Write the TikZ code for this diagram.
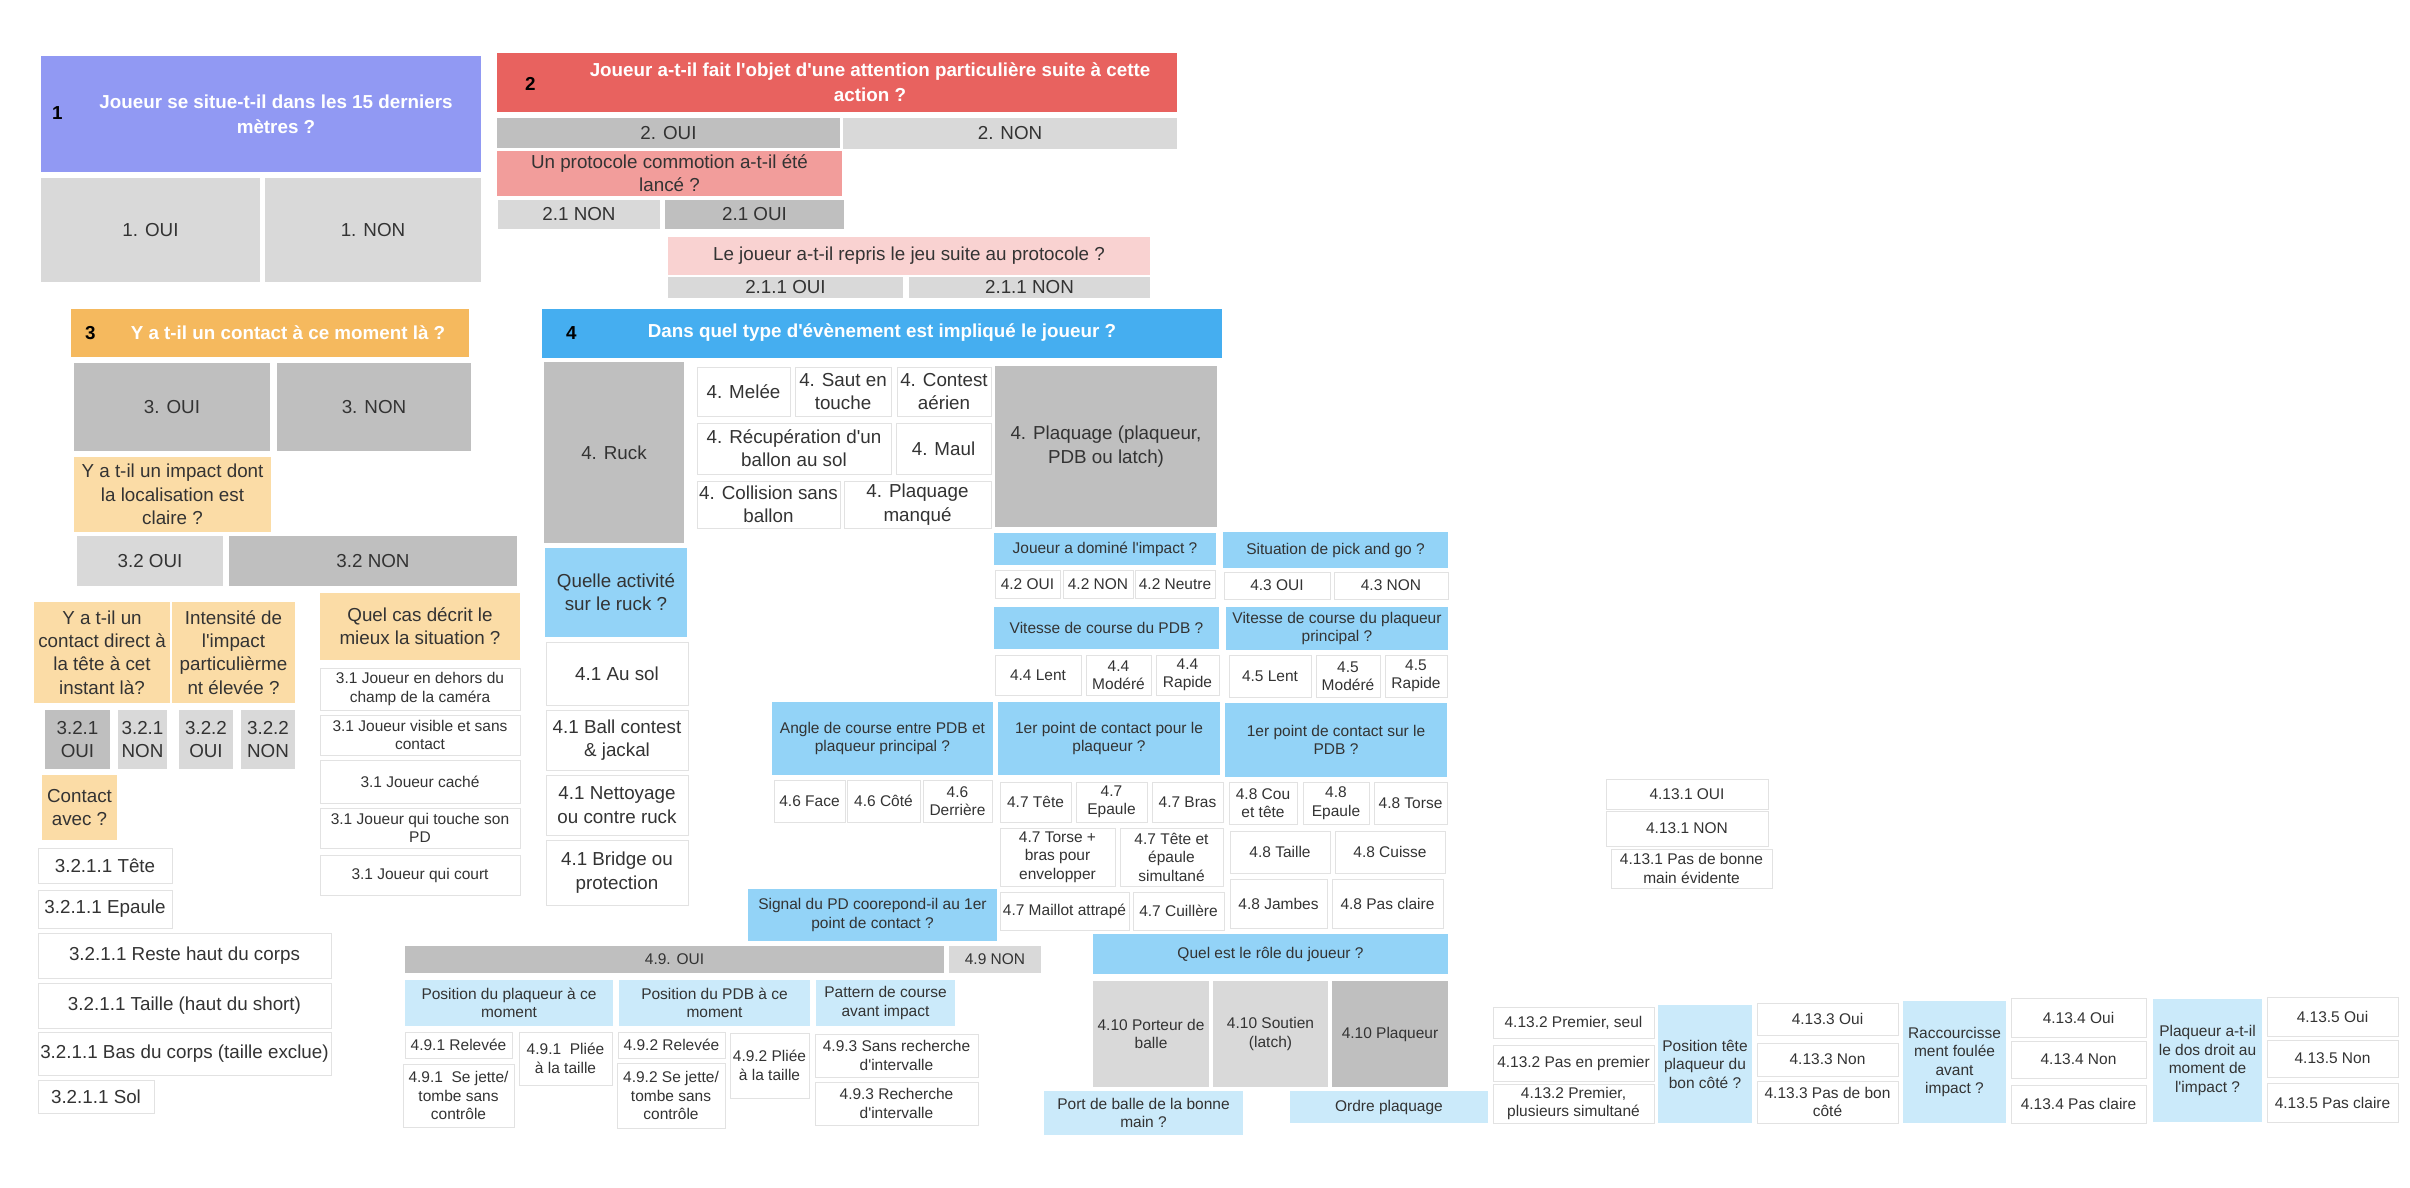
\documentclass[tikz,border=0pt]{standalone}
\usepackage{fontspec}
\setmainfont{Liberation Sans}[Ligatures=TeXOff]
\definecolor{txt}{HTML}{333333}
\definecolor{cA}{HTML}{9199F3}
\definecolor{cB}{HTML}{E8625F}
\definecolor{cBm}{HTML}{F29D9B}
\definecolor{cBl}{HTML}{F9D2D1}
\definecolor{cC}{HTML}{F5B95E}
\definecolor{cCl}{HTML}{FBDCA6}
\definecolor{cD}{HTML}{45AEF0}
\definecolor{cDm}{HTML}{93D3F7}
\definecolor{cDl}{HTML}{CBEAFA}
\definecolor{gd}{HTML}{BFBFBF}
\definecolor{gl}{HTML}{D9D9D9}
\definecolor{wb}{HTML}{E2E2E2}
\newcommand\fbig{\fontsize{18.8}{23.3}\selectfont}
\newcommand\fsm{\fontsize{15.5}{18.5}\selectfont}
\newcommand\fhd{\fontsize{18.8}{25}\selectfont\bfseries}
\newcommand\bx[7]{\node[#1, minimum width={(#4)-(#2)}, minimum height={(#5)-(#3)}] (#6) at ({((#2)+(#4))/2},{((#3)+(#5))/2}) {#7};}
\tikzset{
  base/.style={inner sep=0pt, outer sep=0pt, align=center, text=txt, font=\fbig},
  small/.style={font=\fsm},
  hA/.style={base, fill=cA},
  hB/.style={base, fill=cB},
  rm/.style={base, fill=cBm},
  rl/.style={base, fill=cBl},
  hC/.style={base, fill=cC},
  ol/.style={base, fill=cCl},
  hD/.style={base, fill=cD},
  bm/.style={base, fill=cDm},
  bl/.style={base, fill=cDl},
  gdark/.style={base, fill=gd},
  glight/.style={base, fill=gl},
  wbox/.style={base, fill=white, draw=wb, line width=1pt},
  hdtext/.style={inner sep=0pt, align=center, text=white, font=\fhd},
  hdnum/.style={inner sep=0pt, anchor=west, text=black, font=\fhd}
}
\begin{document}
\begin{tikzpicture}[x=1pt,y=-1pt]
\fill[white] (0,0) rectangle (2410,1188);
\useasboundingbox (0,0) rectangle (2410,1188);
% ---------- 1 ----------
\bx{hA}{41}{56}{481}{172}{q1}{}
\node[hdnum] (q1n) at (52,113) {1};
\node[hdtext] (q1t) at (276,114) {Joueur se situe-t-il dans les 15 derniers\\mètres ?};
\bx{glight}{41}{178}{260}{282}{a1o}{1. OUI}
\bx{glight}{265}{178}{481}{282}{a1n}{1. NON}
% ---------- 2 ----------
\bx{hB}{497}{53}{1177}{112}{q2}{}
\node[hdnum] (q2n) at (525,84) {2};
\node[hdtext] (q2t) at (870,82) {Joueur a-t-il fait l'objet d'une attention particulière suite à cette\\action ?};
\bx{gdark}{497}{118}{840}{148}{a2o}{2. OUI}
\bx{glight}{843}{118}{1177}{149}{a2n}{2. NON}
\bx{rm}{497}{151}{842}{196}{q21}{Un protocole commotion a-t-il été\\lancé ?}
\bx{glight}{498}{200}{660}{229}{a21n}{2.1 NON}
\bx{gdark}{665}{200}{844}{229}{a21o}{2.1 OUI}
\bx{rl}{668}{237}{1150}{275}{q211}{Le joueur a-t-il repris le jeu suite au protocole ?}
\bx{glight}{668}{277}{903}{298}{a211o}{2.1.1 OUI}
\bx{glight}{909}{277}{1150}{298}{a211n}{2.1.1 NON}
% ---------- 3 ----------
\bx{hC}{71}{309}{469}{357}{q3}{}
\node[hdnum] (q3n) at (85,333) {3};
\node[hdtext] (q3t) at (288,333) {Y a t-il un contact à ce moment là ?};
\bx{gdark}{74}{363}{270}{451}{a3o}{3. OUI}
\bx{gdark}{277}{363}{471}{451}{a3n}{3. NON}
\bx{ol}{74}{457}{271}{532}{q32}{Y a t-il un impact dont\\la localisation est\\claire ?}
\bx{glight}{77}{536}{223}{586}{a32o}{3.2 OUI}
\bx{gdark}{229}{536}{517}{586}{a32n}{3.2 NON}
\bx{ol}{34}{602}{170}{703}{q321}{Y a t-il un\\contact direct à\\la tête à cet\\instant là?}
\bx{ol}{172}{602}{295}{703}{q322}{Intensité de\\l'impact\\particulièrme\\nt élevée ?}
\bx{gdark}{45}{710}{110}{769}{a321o}{3.2.1\\OUI}
\bx{glight}{118}{710}{167}{769}{a321n}{3.2.1\\NON}
\bx{glight}{179}{710}{233}{769}{a322o}{3.2.2\\OUI}
\bx{glight}{241}{710}{295}{769}{a322n}{3.2.2\\NON}
\bx{ol}{42}{775}{117}{840}{q3211}{Contact\\avec ?}
\bx{wbox}{38}{848}{172}{883}{c1}{3.2.1.1 Tête}
\bx{wbox}{38}{890}{172}{928}{c2}{3.2.1.1 Epaule}
\bx{wbox}{38}{933}{331}{978}{c3}{3.2.1.1 Reste haut du corps}
\bx{wbox}{38}{983}{331}{1028}{c4}{3.2.1.1 Taille (haut du short)}
\bx{wbox}{38}{1032}{331}{1075}{c5}{3.2.1.1 Bas du corps (taille exclue)}
\bx{wbox}{38}{1080}{154}{1113}{c6}{3.2.1.1 Sol}
\bx{ol}{320}{593}{520}{660}{q31}{Quel cas décrit le\\mieux la situation ?}
\bx{wbox,small}{320}{668}{520}{710}{s1}{3.1 Joueur en dehors du\\champ de la caméra}
\bx{wbox,small}{320}{715}{520}{755}{s2}{3.1 Joueur visible et sans\\contact}
\bx{wbox,small}{320}{760}{520}{803}{s3}{3.1 Joueur caché}
\bx{wbox,small}{320}{808}{520}{848}{s4}{3.1 Joueur qui touche son\\PD}
\bx{wbox,small}{320}{855}{520}{895}{s5}{3.1 Joueur qui court}
% ---------- 4 ----------
\bx{hD}{542}{309}{1222}{358}{q4}{}
\node[hdnum] (q4n) at (566,333) {4};
\node[hdtext] (q4t) at (882,333) {Dans quel type d'évènement est impliqué le joueur ?};
\bx{gdark}{544}{362}{684}{543}{e1}{4. Ruck}
\bx{wbox}{697}{367}{790}{416}{e2}{4. Melée}
\bx{wbox}{795}{367}{891}{416}{e3}{4. Saut en\\touche}
\bx{wbox}{897}{367}{991}{416}{e4}{4. Contest\\aérien}
\bx{wbox}{697}{423}{891}{474}{e5}{4. Récupération d'un\\ballon au sol}
\bx{wbox}{896}{423}{991}{474}{e6}{4. Maul}
\bx{wbox}{697}{481}{840}{528}{e7}{4. Collision sans\\ballon}
\bx{wbox}{844}{481}{991}{528}{e8}{4. Plaquage\\manqué}
\bx{gdark}{995}{366}{1217}{527}{e9}{4. Plaquage (plaqueur,\\PDB ou latch)}
\bx{bm}{545}{548}{687}{637}{q41}{Quelle activité\\sur le ruck ?}
\bx{wbox}{546}{642}{688}{705}{r1}{4.1 Au sol}
\bx{wbox}{546}{710}{688}{770}{r2}{4.1 Ball contest\\\& jackal}
\bx{wbox}{546}{775}{688}{835}{r3}{4.1 Nettoyage\\ou contre ruck}
\bx{wbox}{546}{840}{688}{905}{r4}{4.1 Bridge ou\\protection}
% 4.2 / 4.3
\bx{bm,small}{994}{533}{1216}{565}{q42}{Joueur a dominé l'impact ?}
\bx{wbox,small}{995}{570}{1060}{598}{a42o}{4.2 OUI}
\bx{wbox,small}{1063}{570}{1133}{598}{a42n}{4.2 NON}
\bx{wbox,small}{1135}{570}{1215}{598}{a42x}{4.2 Neutre}
\bx{bm,small}{1223}{532}{1448}{568}{q43}{Situation de pick and go ?}
\bx{wbox,small}{1224}{572}{1330}{599}{a43o}{4.3 OUI}
\bx{wbox,small}{1334}{572}{1448}{599}{a43n}{4.3 NON}
% 4.4 / 4.5
\bx{bm,small}{994}{607}{1219}{649}{q44}{Vitesse de course du PDB ?}
\bx{wbox,small}{995}{655}{1081}{695}{a44l}{4.4 Lent}
\bx{wbox,small}{1086}{655}{1151}{695}{a44m}{4.4\\Modéré}
\bx{wbox,small}{1156}{655}{1219}{695}{a44r}{4.4\\Rapide}
\bx{bm,small}{1226}{607}{1448}{650}{q45}{Vitesse de course du plaqueur\\principal ?}
\bx{wbox,small}{1229}{655}{1311}{697}{a45l}{4.5 Lent}
\bx{wbox,small}{1316}{655}{1380}{697}{a45m}{4.5\\Modéré}
\bx{wbox,small}{1385}{655}{1447}{697}{a45r}{4.5\\Rapide}
% 4.6 / 4.7 / 4.8
\bx{bm,small}{772}{702}{993}{775}{q46}{Angle de course entre PDB et\\plaqueur principal ?}
\bx{bm,small}{998}{702}{1220}{775}{q47}{1er point de contact pour le\\plaqueur ?}
\bx{bm,small}{1225}{703}{1447}{777}{q48}{1er point de contact sur le\\PDB ?}
\bx{wbox,small}{774}{780}{845}{822}{a46f}{4.6 Face}
\bx{wbox,small}{847}{780}{920}{822}{a46c}{4.6 Côté}
\bx{wbox,small}{923}{780}{992}{822}{a46d}{4.6\\Derrière}
\bx{wbox,small}{1000}{782}{1071}{822}{a47t}{4.7 Tête}
\bx{wbox,small}{1076}{782}{1147}{822}{a47e}{4.7\\Epaule}
\bx{wbox,small}{1152}{782}{1223}{822}{a47b}{4.7 Bras}
\bx{wbox,small}{1000}{828}{1115}{886}{a47x}{4.7 Torse +\\bras pour\\envelopper}
\bx{wbox,small}{1120}{828}{1223}{886}{a47y}{4.7 Tête et\\épaule\\simultané}
\bx{wbox,small}{1000}{892}{1129}{930}{a47m}{4.7 Maillot attrapé}
\bx{wbox,small}{1133}{892}{1224}{930}{a47c}{4.7 Cuillère}
\bx{wbox,small}{1229}{782}{1297}{824}{a48c}{4.8 Cou\\et tête}
\bx{wbox,small}{1303}{782}{1369}{824}{a48e}{4.8\\Epaule}
\bx{wbox,small}{1374}{782}{1447}{824}{a48t}{4.8 Torse}
\bx{wbox,small}{1230}{831}{1330}{873}{a48w}{4.8 Taille}
\bx{wbox,small}{1335}{831}{1445}{873}{a48q}{4.8 Cuisse}
\bx{wbox,small}{1230}{879}{1327}{928}{a48j}{4.8 Jambes}
\bx{wbox,small}{1332}{879}{1443}{928}{a48p}{4.8 Pas claire}
% 4.9
\bx{bm,small}{748}{889}{997}{941}{q49}{Signal du PD coorepond-il au 1er\\point de contact ?}
\bx{gdark,small}{405}{946}{944}{973}{a49o}{4.9. OUI}
\bx{glight,small}{949}{946}{1041}{973}{a49n}{4.9 NON}
\bx{bl,small}{405}{980}{613}{1026}{q491}{Position du plaqueur à ce\\moment}
\bx{bl,small}{619}{980}{810}{1026}{q492}{Position du PDB à ce\\moment}
\bx{bl,small}{816}{980}{955}{1026}{q493}{Pattern de course\\avant impact}
\bx{wbox,small}{405}{1032}{512}{1058}{p1}{4.9.1 Relevée}
\bx{wbox,small}{519}{1032}{612}{1085}{p2}{4.9.1~~Pliée\\à la taille}
\bx{wbox,small}{403}{1064}{514}{1127}{p3}{4.9.1~~Se jette/\\tombe sans\\contrôle}
\bx{wbox,small}{618}{1032}{725}{1058}{p4}{4.9.2 Relevée}
\bx{wbox,small}{617}{1063}{725}{1128}{p5}{4.9.2 Se jette/\\tombe sans\\contrôle}
\bx{wbox,small}{730}{1033}{809}{1098}{p6}{4.9.2 Pliée\\à la taille}
\bx{wbox,small}{815}{1034}{978}{1077}{p7}{4.9.3 Sans recherche\\d'intervalle}
\bx{wbox,small}{815}{1082}{978}{1125}{p8}{4.9.3 Recherche\\d'intervalle}
% 4.10
\bx{bm,small}{1093}{934}{1448}{974}{q410}{Quel est le rôle du joueur ?}
\bx{glight,small}{1093}{981}{1209}{1087}{a410p}{4.10 Porteur de\\balle}
\bx{glight,small}{1213}{981}{1328}{1087}{a410s}{4.10 Soutien\\(latch)}
\bx{gdark,small}{1332}{981}{1448}{1087}{a410q}{4.10 Plaqueur}
\bx{bl,small}{1044}{1091}{1243}{1135}{q4131}{Port de balle de la bonne\\main ?}
\bx{bl,small}{1290}{1091}{1488}{1123}{q4132}{Ordre plaquage}
% 4.13
\bx{wbox,small}{1606}{779}{1768}{809}{b1o}{4.13.1 OUI}
\bx{wbox,small}{1606}{811}{1768}{846}{b1n}{4.13.1 NON}
\bx{wbox,small}{1611}{849}{1772}{888}{b1x}{4.13.1 Pas de bonne\\main évidente}
\bx{wbox,small}{1493}{1007}{1654}{1038}{b2a}{4.13.2 Premier, seul}
\bx{wbox,small}{1493}{1045}{1654}{1081}{b2b}{4.13.2 Pas en premier}
\bx{wbox,small}{1493}{1084}{1654}{1123}{b2c}{4.13.2 Premier,\\plusieurs simultané}
\bx{bl,small}{1658}{1005}{1752}{1123}{q4133}{Position tête\\plaqueur du\\bon côté ?}
\bx{wbox,small}{1757}{1003}{1898}{1035}{b3a}{4.13.3 Oui}
\bx{wbox,small}{1757}{1043}{1898}{1076}{b3b}{4.13.3 Non}
\bx{wbox,small}{1757}{1081}{1898}{1123}{b3c}{4.13.3 Pas de bon\\côté}
\bx{bl,small}{1903}{1001}{2006}{1123}{q4134}{Raccourcisse\\ment foulée\\avant\\impact ?}
\bx{wbox,small}{2011}{998}{2146}{1037}{b4a}{4.13.4 Oui}
\bx{wbox,small}{2011}{1041}{2146}{1078}{b4b}{4.13.4 Non}
\bx{wbox,small}{2011}{1085}{2146}{1123}{b4c}{4.13.4 Pas claire}
\bx{bl,small}{2153}{999}{2262}{1122}{q4135}{Plaqueur a-t-il\\le dos droit au\\moment de\\l'impact ?}
\bx{wbox,small}{2267}{997}{2398}{1036}{b5a}{4.13.5 Oui}
\bx{wbox,small}{2267}{1040}{2398}{1077}{b5b}{4.13.5 Non}
\bx{wbox,small}{2267}{1083}{2398}{1122}{b5c}{4.13.5 Pas claire}
\end{tikzpicture}
\end{document}
